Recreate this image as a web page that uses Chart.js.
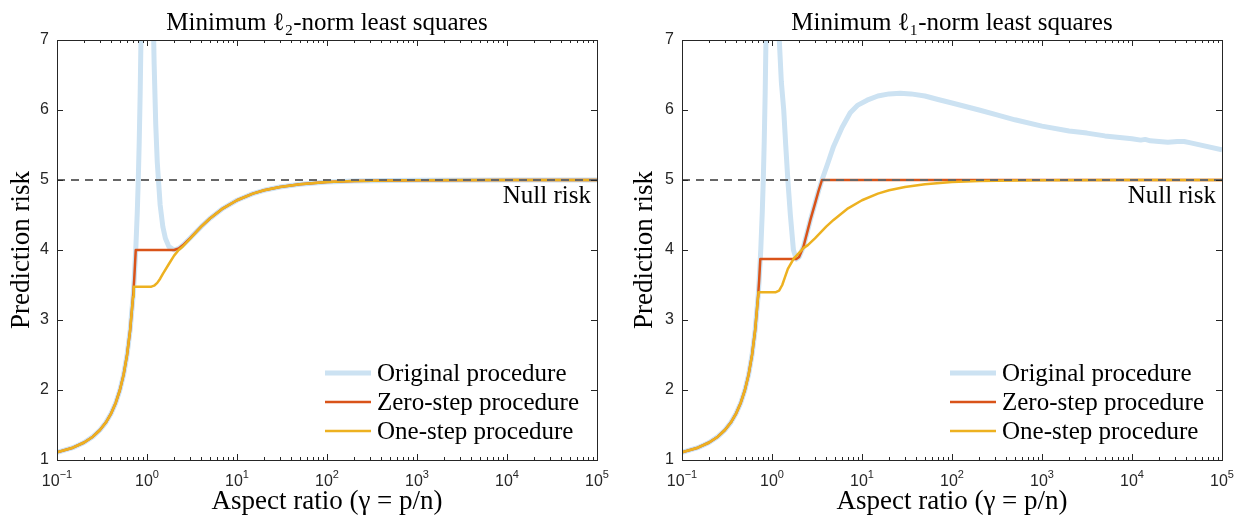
<!DOCTYPE html>
<html>
<head>
<meta charset="utf-8">
<script src="https://cdn.jsdelivr.net/npm/chart.js@4.4.1/dist/chart.umd.min.js"></script>
<style>
  body { margin: 0; background: #fff; }
  .panel { position: absolute; top: 0; height: 519px; }
</style>
</head>
<body>
<div class="panel" style="left:0;width:620px"><canvas id="left"></canvas></div>
<div class="panel" style="left:620px;width:619px"><canvas id="right"></canvas></div>
<script>
// aspect ratio gamma (x) and prediction risk (y)

// left panel: minimum l2-norm least squares
var l2OrigGamma = [0.1, 0.15, 0.2, 0.25, 0.3, 0.35, 0.4, 0.45, 0.5, 0.55, 0.6, 0.65, 0.7, 0.72, 0.75, 0.78, 0.8, 0.82, 0.84, 0.86, 0.88, 0.9, 0.95,
                   1.05, 1.1, 1.15, 1.18, 1.2, 1.25, 1.3, 1.4, 1.5, 1.6, 1.75, 2, 2.25, 2.5, 3, 4, 5, 7, 10, 15, 20, 30, 50, 100, 200, 500, 1000, 10000, 100000];
var l2OrigRisk  = [1.111, 1.176, 1.25, 1.333, 1.429, 1.538, 1.667, 1.818, 2.0, 2.222, 2.5, 2.857, 3.333, 3.571, 4.0, 4.545, 5.0, 5.556, 6.25, 7.143, 8.333, 10, 20,
                   21.2, 11.36, 8.19, 7.17, 6.667, 5.8, 5.256, 4.643, 4.333, 4.167, 4.048, 4.0, 4.022, 4.067, 4.167, 4.333, 4.45, 4.595, 4.711, 4.805, 4.853, 4.901, 4.94, 4.97, 4.985, 4.994, 4.997, 5.0, 5.0];

var l2ZeroGamma = [0.1, 0.15, 0.2, 0.25, 0.3, 0.35, 0.4, 0.45, 0.5, 0.55, 0.6, 0.65, 0.7, 0.72, 0.75, 1, 1.5, 2, 2.25, 2.5, 3, 4, 5, 7, 10, 15, 20, 30, 50, 100, 200, 500, 1000, 10000, 100000];
var l2ZeroRisk  = [1.111, 1.176, 1.25, 1.333, 1.429, 1.538, 1.667, 1.818, 2.0, 2.222, 2.5, 2.857, 3.333, 3.571, 4.0, 4.0, 4.0, 4.0, 4.022, 4.067, 4.167, 4.333, 4.45, 4.595, 4.711, 4.805, 4.853, 4.901, 4.94, 4.97, 4.985, 4.994, 4.997, 5.0, 5.0];

var l2OneGamma = [0.1, 0.15, 0.2, 0.25, 0.3, 0.35, 0.4, 0.45, 0.5, 0.55, 0.6, 0.65, 0.7, 0.712, 1.12, 1.2, 1.3, 1.4, 1.5, 1.75, 2, 2.25, 2.5, 3, 4, 5, 7, 10, 15, 20, 30, 50, 100, 200, 500, 1000, 10000, 100000];
var l2OneRisk  = [1.111, 1.176, 1.25, 1.333, 1.429, 1.538, 1.667, 1.818, 2.0, 2.222, 2.5, 2.857, 3.333, 3.476, 3.476, 3.49, 3.53, 3.59, 3.66, 3.80, 3.92, 4.0, 4.05, 4.16, 4.333, 4.45, 4.595, 4.711, 4.805, 4.853, 4.901, 4.94, 4.97, 4.985, 4.994, 4.997, 5.0, 5.0];

// right panel: minimum l1-norm least squares
var l1OrigGamma = [0.1, 0.15, 0.2, 0.25, 0.3, 0.35, 0.4, 0.45, 0.5, 0.55, 0.6, 0.65, 0.7, 0.72, 0.75, 0.78, 0.8, 0.82, 0.84, 0.86, 0.88, 0.9, 0.95,
                   1.05, 1.1, 1.15, 1.2, 1.27, 1.35, 1.42, 1.5, 1.6, 1.73, 1.86, 2, 2.24, 2.67, 3, 3.3, 3.59, 4.2, 4.83, 6, 7.4, 9, 11.4, 15, 20, 26.6, 35, 50, 70, 100, 200, 316, 500,
                   1000, 2000, 3162, 5000, 10000, 12500, 14000, 16000, 25000, 32000, 38000, 45000, 100000];
var l1OrigRisk  = [1.111, 1.176, 1.25, 1.333, 1.429, 1.538, 1.667, 1.818, 2.0, 2.222, 2.5, 2.857, 3.333, 3.571, 4.0, 4.545, 5.0, 5.556, 6.25, 7.143, 8.333, 10, 20,
                   25, 14, 9.5, 7.05, 6.4, 6.0, 5.5, 5.0, 4.5, 4.0, 3.87, 3.9, 4.05, 4.43, 4.66, 4.85, 5.0, 5.25, 5.48, 5.75, 5.96, 6.07, 6.14, 6.2, 6.23, 6.24, 6.23, 6.2, 6.15, 6.1, 6.0, 5.93, 5.86,
                   5.77, 5.7, 5.67, 5.63, 5.59, 5.57, 5.58, 5.56, 5.54, 5.55, 5.55, 5.53, 5.43];

var l1ZeroGamma = [0.1, 0.15, 0.2, 0.25, 0.3, 0.35, 0.4, 0.45, 0.5, 0.55, 0.6, 0.65, 0.7, 0.72, 0.741, 1, 1.5, 1.86, 2, 2.24, 2.67, 3, 3.3, 3.59, 10, 100, 1000, 100000];
var l1ZeroRisk  = [1.111, 1.176, 1.25, 1.333, 1.429, 1.538, 1.667, 1.818, 2.0, 2.222, 2.5, 2.857, 3.333, 3.571, 3.87, 3.87, 3.87, 3.87, 3.9, 4.05, 4.43, 4.66, 4.85, 5.0, 5.0, 5.0, 5.0, 5.0];

var l1OneGamma = [0.1, 0.15, 0.2, 0.25, 0.3, 0.35, 0.4, 0.45, 0.5, 0.55, 0.6, 0.65, 0.7, 0.706, 1.09, 1.2, 1.3, 1.4, 1.5, 1.75, 2, 2.25, 2.5, 3, 4, 4.83, 7, 10, 15, 20, 30, 50, 100, 200, 500, 1000, 10000, 100000];
var l1OneRisk  = [1.111, 1.176, 1.25, 1.333, 1.429, 1.538, 1.667, 1.818, 2.0, 2.222, 2.5, 2.857, 3.333, 3.396, 3.396, 3.42, 3.5, 3.62, 3.73, 3.88, 3.96, 4.03, 4.07, 4.167, 4.333, 4.43, 4.595, 4.711, 4.805, 4.853, 4.901, 4.94, 4.97, 4.985, 4.994, 4.997, 5.0, 5.0];

var nullRisk = 5;
var xTickExponents = [-1, 0, 1, 2, 3, 4, 5];
var yTicks = [1, 2, 3, 4, 5, 6, 7];
var seriesNames = ['Original procedure', 'Zero-step procedure', 'One-step procedure'];

var serif = "'Liberation Serif', 'DejaVu Serif', serif";
var sans = "'Liberation Sans', Arial, sans-serif";
var axisColor = '#262626';

function toPoints(xs, ys) {
    return xs.map(function (x, i) { return { x: x, y: ys[i] }; });
}

// box, inward ticks, x tick labels with exponents, legend and the "Null risk" note
var decorPlugin = {
    id: 'decor',
    afterDatasetsDraw: function (chart) {
        var ctx = chart.ctx;
        var a = chart.chartArea;
        var xs = chart.scales.x, ys = chart.scales.y;
        ctx.save();
        ctx.strokeStyle = axisColor;
        ctx.lineWidth = 1;
        ctx.strokeRect(Math.round(a.left) + 0.5, Math.round(a.top) + 0.5, Math.round(a.right - a.left), Math.round(a.bottom - a.top));

        ctx.beginPath();
        for (var e = -1; e <= 5; e++) {
            for (var k = 1; k <= 9; k++) {
                var v = k * Math.pow(10, e);
                if (v > 100000) break;
                var px = Math.round(xs.getPixelForValue(v)) + 0.5;
                var len = k === 1 ? 6 : 3;
                ctx.moveTo(px, a.bottom); ctx.lineTo(px, a.bottom - len);
                ctx.moveTo(px, a.top); ctx.lineTo(px, a.top + len);
            }
        }
        yTicks.forEach(function (t) {
            var py = Math.round(ys.getPixelForValue(t)) + 0.5;
            ctx.moveTo(a.left, py); ctx.lineTo(a.left + 6, py);
            ctx.moveTo(a.right, py); ctx.lineTo(a.right - 6, py);
        });
        ctx.stroke();

        // x tick labels: 10 with a raised exponent
        ctx.fillStyle = axisColor;
        ctx.textBaseline = 'alphabetic';
        ctx.textAlign = 'left';
        xTickExponents.forEach(function (ex) {
            var base = '10', sup = String(ex).replace('-', '\u2212');
            ctx.font = '16px ' + sans;
            var wb = ctx.measureText(base).width;
            ctx.font = '11px ' + sans;
            var ws = ctx.measureText(sup).width;
            var x0 = xs.getPixelForValue(Math.pow(10, ex)) - (wb + ws) / 2;
            ctx.font = '16px ' + sans;
            ctx.fillText(base, x0, a.bottom + 26);
            ctx.font = '11px ' + sans;
            ctx.fillText(sup, x0 + wb, a.bottom + 18);
        });

        // legend
        ctx.font = '25px ' + serif;
        ctx.textBaseline = 'middle';
        ctx.fillStyle = '#000';
        for (var i = 0; i < 3; i++) {
            var ds = chart.data.datasets[i];
            var y = a.bottom - 87 + i * 29;
            ctx.strokeStyle = ds.borderColor;
            ctx.lineWidth = ds.borderWidth;
            ctx.beginPath();
            ctx.moveTo(a.right - 272, y); ctx.lineTo(a.right - 226, y);
            ctx.stroke();
            ctx.fillText(ds.label, a.right - 220, y + 1);
        }

        ctx.textAlign = 'right';
        ctx.fillText('Null risk', a.right - 6, ys.getPixelForValue(nullRisk) + 16);
        ctx.restore();
    }
};

function makeChart(id, title, orig, zero, one, padLeft, padRight, yWidth) {
    var nullLine = [{ x: 0.1, y: nullRisk }, { x: 100000, y: nullRisk }];
    new Chart(document.getElementById(id).getContext('2d'), {
        type: 'line',
        data: {
            datasets: [
                { label: seriesNames[0], data: toPoints(orig[0], orig[1]), borderColor: '#cce2f2', borderWidth: 5, order: 3 },
                { label: seriesNames[1], data: toPoints(zero[0], zero[1]), borderColor: '#d95319', borderWidth: 2.5, order: 2 },
                { label: seriesNames[2], data: toPoints(one[0], one[1]), borderColor: '#edb120', borderWidth: 2.5, order: 1 },
                { label: 'Null risk', data: nullLine, borderColor: '#666666', borderWidth: 2, borderDash: [8, 6], order: 0 }
            ]
        },
        options: {
            responsive: true,
            maintainAspectRatio: false,
            animation: false,
            devicePixelRatio: 1,
            layout: { padding: { left: padLeft, right: padRight, top: 0, bottom: 0 } },
            elements: { point: { radius: 0 }, line: { tension: 0, borderCapStyle: 'butt', borderJoinStyle: 'round' } },
            plugins: {
                legend: { display: false },
                tooltip: { enabled: false },
                title: {
                    display: true, text: title, fullSize: false, color: '#000',
                    font: { family: serif, size: 25, weight: 'normal', lineHeight: 1.2 },
                    padding: { top: 8.6, bottom: 1.4 }
                }
            },
            scales: {
                x: {
                    type: 'logarithmic', min: 0.1, max: 100000,
                    afterFit: function (s) { s.height = 59; },
                    afterBuildTicks: function (s) {
                        s.ticks = xTickExponents.map(function (e) { return { value: Math.pow(10, e) }; });
                    },
                    ticks: { display: false },
                    grid: { display: false, drawTicks: false },
                    border: { display: false },
                    title: { display: true, text: 'Aspect ratio (γ = p/n)', color: '#000', font: { family: serif, size: 27, lineHeight: 1.2 }, padding: { top: 0, bottom: 1 } }
                },
                y: {
                    min: 1, max: 7,
                    afterFit: function (s) { s.width = yWidth; },
                    afterBuildTicks: function (s) {
                        s.ticks = yTicks.map(function (t) { return { value: t }; });
                    },
                    ticks: { color: axisColor, font: { family: sans, size: 16 }, padding: 8 },
                    grid: { display: false, drawTicks: false },
                    border: { display: false },
                    title: { display: true, text: 'Prediction risk', color: '#000', font: { family: serif, size: 27, lineHeight: 1.2 }, padding: { top: 6, bottom: 0 } }
                }
            }
        },
        plugins: [decorPlugin]
    });
}

makeChart('left', 'Minimum ℓ₂-norm least squares',
    [l2OrigGamma, l2OrigRisk], [l2ZeroGamma, l2ZeroRisk], [l2OneGamma, l2OneRisk], 0, 23, 57);
makeChart('right', 'Minimum ℓ₁-norm least squares',
    [l1OrigGamma, l1OrigRisk], [l1ZeroGamma, l1ZeroRisk], [l1OneGamma, l1OneRisk], 3, 17, 59);
</script>
</body>
</html>
